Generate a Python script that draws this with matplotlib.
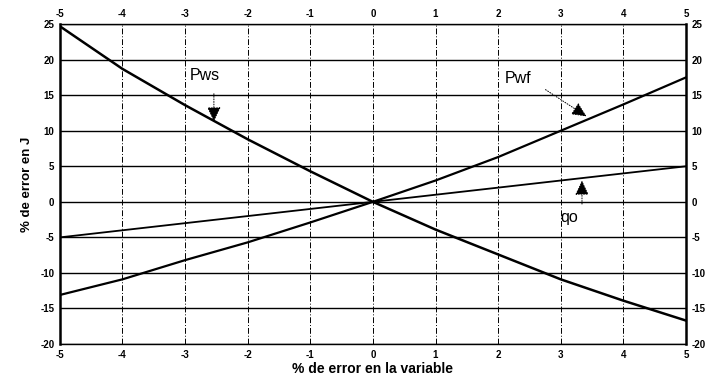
import numpy as np
import matplotlib.pyplot as plt

# % error in variable (x) and resulting % error in J
x_err = [-5, -4, -3, -2, -1, 0, 1, 2, 3, 4, 5]
pws = [24.7, 18.7, 13.6, 8.8, 4.3, 0, -3.9, -7.4, -10.9, -13.9, -16.7]
pwf = [-13.1, -10.9, -8.2, -5.7, -2.9, 0, 3.0, 6.3, 10.0, 13.7, 17.5]
qo = [-5, -4, -3, -2, -1, 0, 1, 2, 3, 4, 5]

x_ticks = [-5, -4, -3, -2, -1, 0, 1, 2, 3, 4, 5]
y_ticks = [-20, -15, -10, -5, 0, 5, 10, 15, 20, 25]

plt.rcParams['font.family'] = ['Liberation Sans', 'DejaVu Sans']
plt.rcParams['axes.unicode_minus'] = False

fig = plt.figure(figsize=(7.13, 3.77), dpi=100)
ax = fig.add_axes([0.084, 0.0875, 0.878, 0.8485])

#----------------------------- grid -----------------------------#
for yv in y_ticks:
    ax.axhline(yv, color='black', lw=1.0, zorder=1)
for xv in x_ticks[1:-1]:
    ax.axvline(xv, color='black', lw=0.7, ls=(0, (6, 2, 1, 2)), zorder=1)

#----------------------------- lines -----------------------------#
ax.plot(x_err, pws, color='black', lw=1.8, zorder=3)
ax.plot(x_err, pwf, color='black', lw=1.6, zorder=3)
ax.plot(x_err, qo, color='black', lw=1.3, zorder=3)

#----------------------------- labels on curves -----------------------------#
arrow = dict(arrowstyle='-|>,head_width=0.35,head_length=0.75', mutation_scale=12,
             color='black', lw=0.7, ls=':')

ax.text(-2.92, 17.1, 'Pws', fontsize=11.5, ha='left', va='baseline')
ax.annotate('', xy=(-2.54, 10.9), xytext=(-2.54, 15.6), arrowprops=arrow)

ax.text(2.11, 16.7, 'Pwf', fontsize=11.5, ha='left', va='baseline')
ax.annotate('', xy=(3.45, 11.8), xytext=(2.72, 16.0), arrowprops=arrow)

ax.text(3.0, -2.85, 'qo', fontsize=11.5, ha='left', va='baseline')
ax.annotate('', xy=(3.34, 3.4), xytext=(3.34, -0.7), arrowprops=arrow)

#----------------------------- axes -----------------------------#
ax.set_xlim(-5, 5)
ax.set_ylim(-20, 25)
ax.set_xticks(x_ticks)
ax.set_yticks(y_ticks)
ax.tick_params(axis='both', length=0, labelsize=7, pad=4,
               top=True, right=True, labeltop=True, labelright=True)
for lab in ax.get_xticklabels() + ax.get_yticklabels():
    lab.set_fontweight('bold')
for s in ['left', 'right']:
    ax.spines[s].set_linewidth(1.8)
for s in ['top', 'bottom']:
    ax.spines[s].set_linewidth(1.0)

ax.set_xlabel('% de error en la variable', fontsize=10, fontweight='bold', labelpad=2)
ax.set_ylabel('% de error en J', fontsize=9.5, fontweight='bold', labelpad=5)

fig.savefig('out.png', dpi=100)
